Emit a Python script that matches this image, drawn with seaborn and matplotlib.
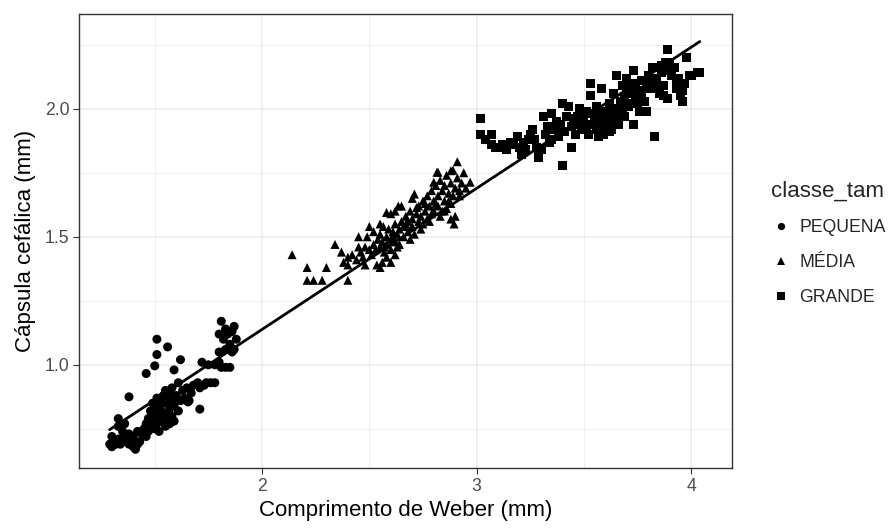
import matplotlib
matplotlib.use("Agg")
import matplotlib.pyplot as plt
from matplotlib.ticker import MultipleLocator
import seaborn as sns
import pandas as pd

# PEQUENA
peq_x = [1.29, 1.30, 1.31, 1.32, 1.33, 1.30, 1.34, 1.35, 1.36, 1.37, 1.38, 1.39, 1.40, 1.41, 1.42,
         1.40, 1.43, 1.33, 1.35, 1.38, 1.42, 1.44, 1.45, 1.46, 1.47, 1.33, 1.36,
         1.46, 1.47, 1.48, 1.49, 1.50, 1.50, 1.51, 1.52, 1.52, 1.53, 1.54, 1.55, 1.55, 1.56, 1.57,
         1.57, 1.58, 1.59, 1.48, 1.49, 1.50, 1.51, 1.52, 1.53, 1.54, 1.55, 1.56, 1.57, 1.58, 1.59,
         1.60, 1.61, 1.62, 1.63, 1.64, 1.65, 1.66, 1.67, 1.68, 1.55, 1.58, 1.61,
         1.38, 1.51, 1.56, 1.51, 1.62, 1.50, 1.59, 1.46, 1.655, 1.71,
         1.70, 1.71, 1.73, 1.74, 1.76, 1.78, 1.72, 1.75, 1.78, 1.80, 1.81, 1.83, 1.85, 1.80, 1.83,
         1.85, 1.87, 1.86, 1.80, 1.82, 1.84, 1.88, 1.87, 1.81, 1.83, 1.86]
peq_y = [0.69, 0.68, 0.70, 0.69, 0.71, 0.72, 0.69, 0.70, 0.72, 0.70, 0.69, 0.71, 0.68, 0.67, 0.69,
         0.72, 0.70, 0.76, 0.74, 0.73, 0.74, 0.73, 0.75, 0.72, 0.74, 0.79, 0.77,
         0.77, 0.79, 0.76, 0.78, 0.75, 0.80, 0.77, 0.79, 0.74, 0.82, 0.78, 0.76, 0.81, 0.79, 0.83,
         0.77, 0.80, 0.78, 0.82, 0.85, 0.83, 0.87, 0.84, 0.86, 0.88, 0.85, 0.87, 0.89, 0.86, 0.84,
         0.88, 0.82, 0.86, 0.90, 0.87, 0.91, 0.86, 0.89, 0.92, 0.90, 0.91, 0.93,
         0.875, 1.10, 1.07, 1.04, 1.02, 0.996, 0.98, 0.966, 0.855, 0.827,
         0.93, 0.91, 0.92, 0.93, 0.93, 0.93, 1.01, 1.00, 1.00, 1.01, 0.99, 0.99, 0.99, 1.05, 1.06,
         1.08, 1.06, 1.05, 1.12, 1.10, 1.12, 1.10, 1.15, 1.17, 1.14, 1.13]

# MÉDIA
med_x = [2.14, 2.21, 2.30, 2.21, 2.24, 2.28, 2.40, 2.34, 2.37, 2.40, 2.45, 2.40, 2.50, 2.45, 2.49,
         2.535, 2.55, 2.565, 2.58, 2.635, 2.71, 2.72, 2.815, 2.80, 2.91, 2.82, 2.88, 2.97, 2.88,
         2.85, 2.895,
         2.42, 2.44, 2.46, 2.47, 2.48, 2.50, 2.51, 2.52, 2.53, 2.54, 2.55, 2.55, 2.56, 2.57, 2.58,
         2.58, 2.59, 2.60, 2.60, 2.61, 2.62, 2.62, 2.63, 2.64, 2.64, 2.65, 2.66, 2.66, 2.67, 2.68,
         2.68, 2.69, 2.70, 2.70, 2.71, 2.72, 2.73, 2.73, 2.74, 2.75, 2.75, 2.76, 2.77, 2.77, 2.78,
         2.79, 2.79, 2.80, 2.80, 2.81, 2.82, 2.82, 2.83, 2.83, 2.84, 2.85, 2.85, 2.86, 2.86, 2.87,
         2.88, 2.88, 2.89, 2.90, 2.90, 2.91, 2.92, 2.93, 2.94, 2.95,
         2.56, 2.58, 2.60, 2.62, 2.48, 2.38, 2.52, 2.55, 2.60, 2.62, 2.65, 2.70,
         2.57, 2.61, 2.63, 2.67, 2.69, 2.74, 2.76, 2.78, 2.81, 2.84, 2.87, 2.89, 2.92]
med_y = [1.43, 1.38, 1.38, 1.33, 1.33, 1.33, 1.33, 1.47, 1.44, 1.42, 1.46, 1.39, 1.54, 1.50, 1.50,
         1.39, 1.38, 1.54, 1.595, 1.62, 1.667, 1.614, 1.752, 1.713, 1.793, 1.752, 1.758, 1.713, 1.569,
         1.601, 1.55,
         1.43, 1.41, 1.44, 1.42, 1.46, 1.45, 1.43, 1.47, 1.45, 1.49, 1.46, 1.51, 1.48, 1.44, 1.50,
         1.47, 1.53, 1.49, 1.45, 1.52, 1.48, 1.55, 1.51, 1.47, 1.53, 1.56, 1.50, 1.54, 1.58, 1.52,
         1.56, 1.60, 1.54, 1.57, 1.51, 1.59, 1.56, 1.62, 1.58, 1.55, 1.64, 1.60, 1.57, 1.66, 1.62,
         1.59, 1.68, 1.64, 1.60, 1.70, 1.66, 1.62, 1.58, 1.72, 1.68, 1.64, 1.70, 1.74, 1.61, 1.67,
         1.71, 1.63, 1.76, 1.69, 1.58, 1.73, 1.66, 1.71, 1.75, 1.69,
         1.40, 1.42, 1.40, 1.43, 1.39, 1.40, 1.52, 1.55, 1.59, 1.60, 1.62, 1.65,
         1.46, 1.50, 1.46, 1.55, 1.49, 1.53, 1.63, 1.56, 1.63, 1.60, 1.64, 1.66, 1.68]

# GRANDE
gra_x = [3.02, 3.02, 3.04, 3.07, 3.09, 3.12, 3.14, 3.16, 3.17, 3.19, 3.20, 3.22, 3.23, 3.21, 3.25,
         3.26, 3.27, 3.29, 3.28, 3.30, 3.31, 3.32, 3.33, 3.34, 3.35, 3.36, 3.37, 3.38, 3.39, 3.40,
         3.40, 3.41, 3.42, 3.43, 3.44, 3.45, 3.46, 3.47, 3.48, 3.49, 3.50, 3.51, 3.52, 3.53, 3.53,
         3.54, 3.55, 3.56, 3.56, 3.57, 3.58, 3.58, 3.59, 3.60, 3.60, 3.61, 3.62, 3.62, 3.63, 3.64,
         3.64, 3.65, 3.65, 3.66, 3.67, 3.68, 3.69, 3.70, 3.70, 3.71, 3.72, 3.73, 3.73, 3.74, 3.75,
         3.76, 3.77, 3.78, 3.79, 3.80, 3.81, 3.82, 3.83, 3.84, 3.85, 3.86, 3.87, 3.87, 3.88, 3.89,
         3.89, 3.90, 3.91, 3.92, 3.93, 3.94, 3.95, 3.96, 3.97, 3.98, 3.99, 4.00, 4.03, 4.04, 3.96,
         3.79, 3.75, 3.68, 3.63, 3.57, 3.07, 3.13, 3.29, 3.44, 3.55, 3.59, 3.66, 3.72, 3.76, 3.82,
         3.54, 3.57, 3.61, 3.63, 3.66, 3.69, 3.71, 3.74, 3.77, 3.80, 3.84, 3.86, 3.90, 3.93,
         3.47, 3.51, 3.38, 3.35, 3.24]
gra_y = [1.96, 1.90, 1.88, 1.90, 1.85, 1.86, 1.84, 1.87, 1.86, 1.89, 1.85, 1.87, 1.84, 1.82, 1.90,
         1.92, 1.88, 1.82, 1.85, 1.84, 1.97, 1.90, 1.93, 1.87, 1.98, 1.92, 1.95, 1.89, 1.94, 2.02,
         1.78, 1.91, 1.97, 2.01, 1.93, 1.96, 1.90, 1.94, 2.00, 1.92, 1.96, 1.93, 1.90, 2.10, 2.05,
         1.98, 1.95, 1.92, 2.01, 1.94, 1.97, 2.08, 1.90, 1.99, 1.93, 1.96, 2.02, 1.91, 1.95, 1.99,
         2.06, 2.13, 2.00, 1.94, 2.03, 2.09, 1.97, 2.12, 2.06, 2.01, 2.08, 2.15, 1.94, 2.05, 2.07,
         1.99, 2.11, 2.03, 2.09, 2.13, 2.08, 2.16, 1.89, 2.12, 2.06, 2.14, 2.09, 2.05, 2.18, 2.04,
         2.23, 2.18, 2.13, 2.16, 2.11, 2.12, 2.05, 2.03, 2.10, 2.20, 2.13, 2.13, 2.14, 2.14, 2.07,
         1.99, 2.02, 2.00, 1.92, 1.89, 1.86, 1.85, 1.81, 1.85, 1.97, 1.95, 1.98, 2.02, 2.04, 2.08,
         1.94, 1.99, 1.94, 1.97, 1.97, 2.04, 2.10, 2.10, 2.06, 2.10, 2.09, 2.17, 2.15, 2.08,
         1.97, 1.99, 1.92, 1.88, 1.88]

classes = ["PEQUENA", "MÉDIA", "GRANDE"]

df = pd.concat([
    pd.DataFrame({"x": peq_x, "y": peq_y, "classe_tam": "PEQUENA"}),
    pd.DataFrame({"x": med_x, "y": med_y, "classe_tam": "MÉDIA"}),
    pd.DataFrame({"x": gra_x, "y": gra_y, "classe_tam": "GRANDE"}),
], ignore_index=True)

sns.set_style("white")
plt.rcParams["font.family"] = ["Liberation Sans", "DejaVu Sans"]

fig = plt.figure(figsize=(8.95, 5.29), dpi=100)
ax = fig.add_axes([79 / 895, 1 - 468 / 529, (732 - 79) / 895, (468 - 14) / 529])

sns.scatterplot(data=df, x="x", y="y", style="classe_tam", style_order=classes,
                markers={"PEQUENA": "o", "MÉDIA": "^", "GRANDE": "s"},
                color="black", edgecolor="black", linewidth=0, s=42, ax=ax, legend=True)
sns.regplot(data=df, x="x", y="y", scatter=False, ci=None, color="black",
            line_kws={"linewidth": 2.0}, ax=ax)

ax.set_xlim(1.147, 4.19)
ax.set_ylim(0.597, 2.37)
ax.xaxis.set_minor_locator(MultipleLocator(0.5))
ax.yaxis.set_minor_locator(MultipleLocator(0.25))
ax.set_yticks([1.0, 1.5, 2.0])
ax.set_yticklabels(["1.0", "1.5", "2.0"])
ax.set_xticks([2, 3, 4])
ax.set_xticklabels(["2", "3", "4"])
ax.grid(which="major", color="#EBEBEB", linewidth=1.1)
ax.grid(which="minor", color="#EBEBEB", linewidth=0.6)
ax.set_axisbelow(True)
ax.tick_params(which="major", length=4, width=0.8, color="#333333",
               labelsize=12.7, labelcolor="#4D4D4D", pad=3, left=True, bottom=True)
ax.tick_params(which="minor", length=0)
for sp in ax.spines.values():
    sp.set_color("#333333")
    sp.set_linewidth(1.0)
ax.set_xlabel("Comprimento de Weber (mm)", fontsize=16, color="black", labelpad=4)
ax.set_ylabel("Cápsula cefálica (mm)", fontsize=16, color="black", labelpad=6)

handles, labels = ax.get_legend_handles_labels()
ax.legend_.remove()
leg = ax.legend(handles, labels, title="classe_tam", loc="upper left",
                bbox_to_anchor=(762 / 895, 1 - 172 / 529), bbox_transform=fig.transFigure,
                frameon=False, fontsize=12.7, title_fontsize=16, alignment="left",
                labelspacing=1.0, handletextpad=0.4, handlelength=1.2, borderpad=0,
                markerscale=0.8)

fig.savefig("out.png", dpi=100)
